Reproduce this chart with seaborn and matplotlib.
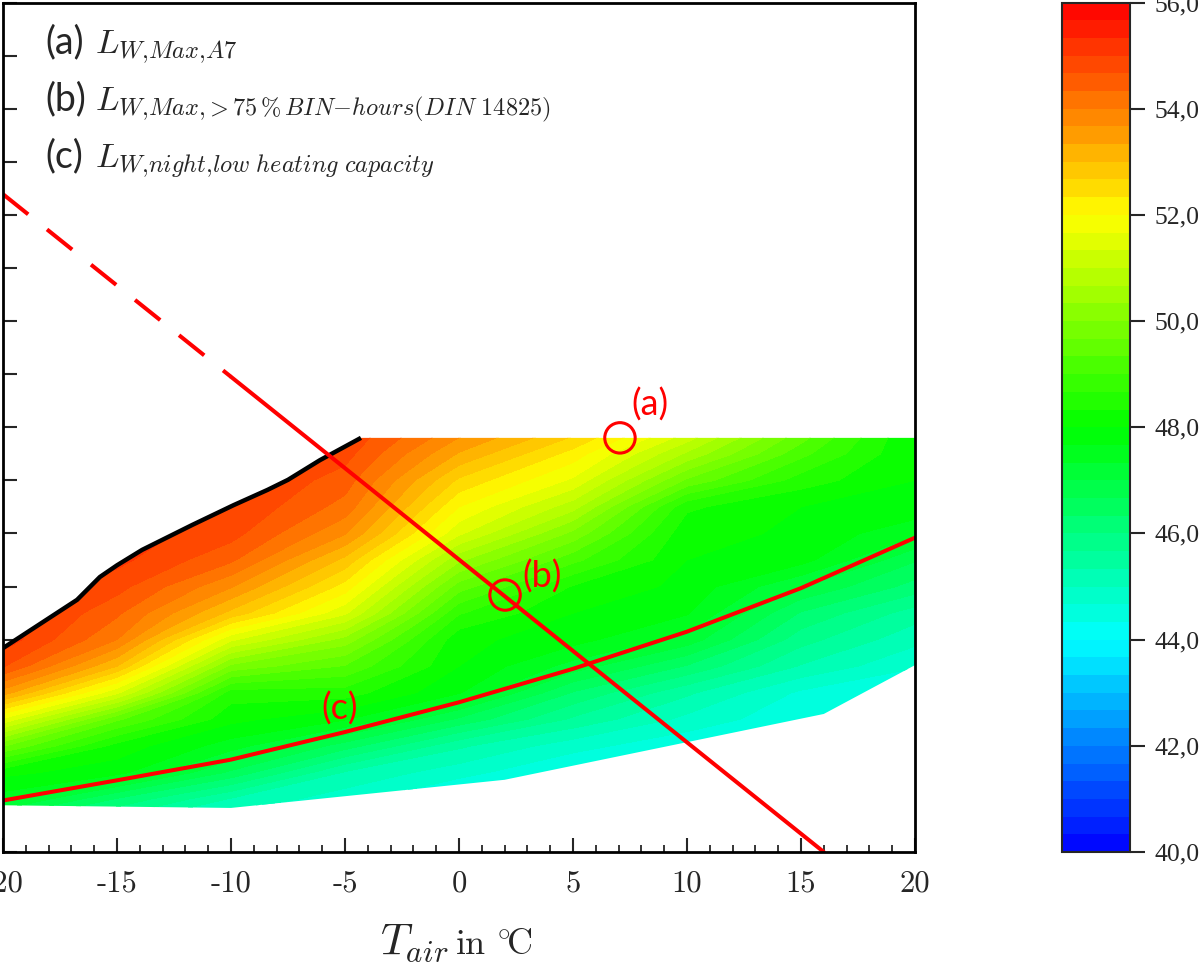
import numpy as np
import pandas as pd
import seaborn as sns
import matplotlib.pyplot as plt
from matplotlib.colors import LinearSegmentedColormap
from matplotlib.patches import Polygon
from matplotlib.ticker import FuncFormatter, MultipleLocator

sns.set_style("white")
plt.rcParams["mathtext.fontset"] = "cm"
plt.rcParams["font.family"] = ["Liberation Serif", "DejaVu Serif"]

# grid of sound power level (dB), one list per temperature
temps = [-20, -15, -10, -5, 0, 5, 10, 15, 20]
cap_rows = [0, 0.5, 1, 1.5, 2, 2.5, 3, 3.5, 4, 4.5, 5, 5.5, 6, 6.5, 7, 7.5, 8]
lw_cols = [
    [45.5, 46.2, 47.5, 48.1, 49.7, 51.6, 53.5, 54.7, 55.2, 55.3, 55.3, 55.3, 55.3, 55.3, 55.3, 55.3, 55.3],
    [44.8, 45.3, 46.3, 47.8, 48.2, 49.4, 51.4, 53.0, 54.0, 54.4, 54.8, 55.1, 55.2, 55.2, 55.2, 55.2, 55.2],
    [44.0, 44.6, 45.3, 46.6, 47.5, 48.1, 48.5, 49.9, 51.4, 52.9, 53.7, 54.4, 54.8, 55.0, 55.1, 55.2, 55.2],
    [43.5, 44.0, 44.8, 45.3, 46.5, 47.7, 48.5, 49.3, 50.2, 51.4, 52.2, 52.9, 53.7, 54.2, 54.5, 54.8, 55.0],
    [43.3, 43.7, 44.2, 44.8, 45.4, 46.6, 47.7, 48.0, 48.1, 48.7, 49.5, 50.4, 51.4, 52.0, 52.6, 53.3, 53.9],
    [43.2, 43.5, 43.8, 44.3, 44.8, 45.6, 46.3, 47.2, 47.8, 48.0, 48.3, 49.1, 49.9, 50.8, 51.6, 52.2, 52.9],
    [43.0, 43.2, 43.5, 43.8, 44.4, 44.9, 45.4, 46.3, 47.2, 47.7, 47.9, 48.0, 48.1, 48.4, 49.6, 50.6, 51.5],
    [42.8, 43.0, 43.3, 43.6, 44.0, 44.4, 44.6, 45.3, 45.8, 46.3, 47.0, 47.8, 47.95, 48.0, 48.5, 49.1, 49.7],
    [42.6, 42.8, 43.0, 43.3, 43.6, 43.9, 44.3, 44.7, 45.1, 45.5, 46.2, 46.7, 47.4, 47.9, 48.0, 48.0, 48.0],
]

# operating range boundaries
max_T = [-20, -16.75, -15.75, -15, -13.9, -11.7, -9.9, -8.4, -7.5, -6.1, -4.3]
max_cap = [3.84, 4.75, 5.18, 5.40, 5.69, 6.16, 6.53, 6.82, 7.01, 7.38, 7.8]
cap_limit = 7.8
min_T = [-20, -10, 2, 16, 20]
min_cap = [0.88, 0.83, 1.36, 2.6, 3.52]

# (b) line, (c) curve, marked points
line_b_T = [-20, -10, 16]
line_b_cap = [12.39, 8.95, 0.0]
curve_c_T = [-20, -15, -10, -5, 0, 5, 10, 15, 20]
curve_c_cap = [0.97, 1.35, 1.74, 2.26, 2.82, 3.45, 4.15, 4.97, 5.92]
points = pd.DataFrame({"T": [7.06, 2.02], "cap": [7.8, 4.84], "name": ["(a)", "(b)"]})

Z = np.array(lw_cols).T
cmap = LinearSegmentedColormap.from_list(
    "lw", ["#0000ff", "#00ffff", "#00ff00", "#ffff00", "#ff0000"])
levels = np.linspace(40, 56, 49)

fig = plt.figure(figsize=(12, 9.65), dpi=100)
ax = fig.add_axes([3 / 1200, 113 / 965, 912 / 1200, 849.5 / 965])
cax = fig.add_axes([1062 / 1200, 113 / 965, 68 / 1200, 849.5 / 965])

cs = ax.contourf(temps, cap_rows, Z, levels=levels, cmap=cmap)
poly_x = max_T + [20, 20] + min_T[::-1]
poly_y = max_cap + [cap_limit, min_cap[-1]] + min_cap[::-1]
clip = Polygon(np.column_stack([poly_x, poly_y]), closed=True,
               transform=ax.transData, facecolor="none", edgecolor="none")
ax.add_patch(clip)
cs.set_clip_path(clip)

ax.plot(max_T, max_cap, color="black", lw=3.2, solid_capstyle="butt")

sns.lineplot(x=curve_c_T, y=curve_c_cap, ax=ax, color="red", lw=2.9, sort=False)
sns.lineplot(x=line_b_T[:2], y=line_b_cap[:2], ax=ax, color="red", lw=2.9,
             sort=False, linestyle=(0, (8, 6)))
sns.lineplot(x=line_b_T[1:], y=line_b_cap[1:], ax=ax, color="red", lw=2.9, sort=False)
sns.scatterplot(data=points, x="T", y="cap", ax=ax, s=480, marker="o",
                facecolor="none", edgecolor="red", linewidth=2.2, zorder=5)

lab_font = dict(family=["Lato", "DejaVu Sans"], fontsize=26, color="red",
                ha="center", va="center")
ax.text(8.38, 8.42, "(a)", **lab_font)
ax.text(3.64, 5.18, "(b)", **lab_font)
ax.text(-5.22, 2.71, "(c)", **lab_font)

legend_lines = [
    ("(a)", r"$L_{W{,}Max{,}A7}$"),
    ("(b)", r"$L_{W{,}Max{,}{>}75\,\%\,BIN{-}hours(DIN\ 14825)}$"),
    ("(c)", r"$L_{W{,}night{,}low\ heating\ capacity}$"),
]
for i, (tag, expr) in enumerate(legend_lines):
    yy = 0.9405 - i * 0.0675
    ax.text(0.047, yy, tag, transform=ax.transAxes, family=["Lato", "DejaVu Sans"],
            fontsize=27, va="baseline")
    ax.text(0.101, yy, expr, transform=ax.transAxes, fontsize=25, va="baseline")

ax.set_xlim(-20, 20)
ax.set_ylim(0, 16)
ax.set_xlabel("")
ax.set_ylabel("")
ax.xaxis.set_major_locator(MultipleLocator(5))
ax.xaxis.set_minor_locator(MultipleLocator(1))
ax.yaxis.set_major_locator(MultipleLocator(1))
ax.xaxis.set_major_formatter(FuncFormatter(lambda v, p: f"{v:.0f}"))
ax.tick_params(axis="x", which="major", direction="in", length=10, width=1.5,
               pad=13, labelsize=22, labelfontfamily="cmr10")
ax.tick_params(axis="x", which="minor", direction="in", length=5, width=1.3)
ax.tick_params(axis="y", which="major", direction="in", length=10, width=1.5,
               labelleft=False)
ax.tick_params(bottom=True, left=True, which="both")
for sp in ax.spines.values():
    sp.set_linewidth(2)
    sp.set_color("black")

fig.text(449 / 1200, 11 / 965, r"$T_{air}$", fontsize=32, ha="right", va="baseline")
fig.text(455 / 1200, 11 / 965, r"$\mathrm{in}\ ^{\circ}\!\mathrm{C}$", fontsize=26,
         ha="left", va="baseline")

cb = fig.colorbar(cs, cax=cax, ticks=np.arange(40, 57, 2))
cb.ax.yaxis.set_major_formatter(FuncFormatter(lambda v, p: f"{v:.2f}".replace(".", ",")))
cb.ax.tick_params(direction="out", length=10.5, width=1.5, pad=7, labelsize=18.5)
cb.ax.minorticks_off()
cb.outline.set_linewidth(1.5)

fig.savefig("out.png", dpi=100)
